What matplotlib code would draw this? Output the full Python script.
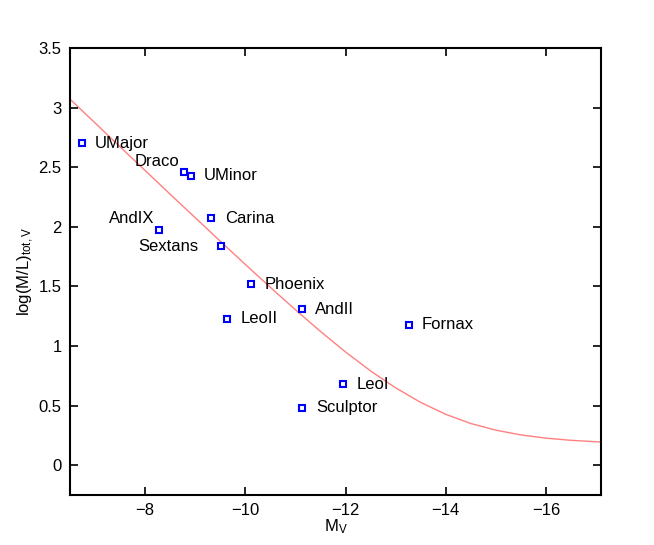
import numpy as np
import matplotlib.pyplot as plt

plt.rcParams['font.family'] = ['Liberation Sans', 'DejaVu Sans']
plt.rcParams['mathtext.default'] = 'regular'

# galaxies: absolute magnitude M_V and log(M/L)
names = ["UMajor", "UMinor", "UMinor", "AndIX", "Carina", "Sextans", "Phoenix",
         "AndII", "LeoII", "Fornax", "LeoI", "Sculptor"]
mv = [-6.74, -8.78, -8.92, -8.28, -9.32, -9.52, -10.12, -11.14, -9.64, -13.26, -11.94, -11.14]
logml = [2.70, 2.46, 2.43, 1.97, 2.07, 1.84, 1.52, 1.31, 1.23, 1.18, 0.68, 0.48]
# label offsets in pixels (dx, dy)
label_dx = [13, None, 13, -5, 14, -23, 13, 13, 13, 13, 14, 14]
label_dy = [0, None, 0, 12, 0, -1, 0, 0, 0, 0, 0, 0]

# model curve
curve_mv = [-6.5, -7.0, -7.5, -8.0, -8.5, -9.0, -9.5, -10.0, -10.5, -11.0, -11.5,
            -12.0, -12.5, -13.0, -13.5, -14.0, -14.5, -15.0, -15.5, -16.0, -16.5, -17.0, -17.1]
curve_logml = [3.071, 2.871, 2.671, 2.472, 2.273, 2.076, 1.879, 1.684, 1.492, 1.304, 1.122,
               0.950, 0.791, 0.649, 0.527, 0.427, 0.350, 0.294, 0.254, 0.227, 0.209, 0.197, 0.195]

fig = plt.figure(figsize=(6.54, 5.45), dpi=100)
ax = fig.add_axes([0.107, 0.0917, 0.812, 0.8203])

ax.plot(curve_mv, curve_logml, color='#ff8080', lw=1.0, zorder=1)
ax.plot(mv, logml, 's', mfc='white', mec='blue', mew=1.5, ms=5, ls='none', zorder=2)

for i, name in enumerate(names):
    if label_dx[i] is None:
        continue
    ha = 'left' if label_dx[i] > 0 else 'right'
    ax.annotate(name, (mv[i], logml[i]), xytext=(label_dx[i], label_dy[i]),
                textcoords='offset pixels', ha=ha, va='center', fontsize=12)
ax.text(-7.8, 2.545, "Draco", ha='left', va='center', fontsize=12)

ax.set_xlim(-6.5, -17.1)
ax.set_ylim(-0.25, 3.5)
ax.set_xticks([-8, -10, -12, -14, -16])
ax.set_xticklabels(['\u22128', '\u221210', '\u221212', '\u221214', '\u221216'])
ax.set_yticks([0, 0.5, 1, 1.5, 2, 2.5, 3, 3.5])
ax.set_yticklabels(['0', '0.5', '1', '1.5', '2', '2.5', '3', '3.5'])
ax.tick_params(direction='in', length=6, width=1.2, top=True, right=True, labelsize=12, pad=6)
for s in ax.spines.values():
    s.set_linewidth(1.5)

ax.set_xlabel(r'M$_V$', fontsize=12, labelpad=-1)
ax.set_ylabel(r'log(M/L)$_{tot,V}$', fontsize=12, labelpad=2)

fig.savefig('out.png', dpi=100)
